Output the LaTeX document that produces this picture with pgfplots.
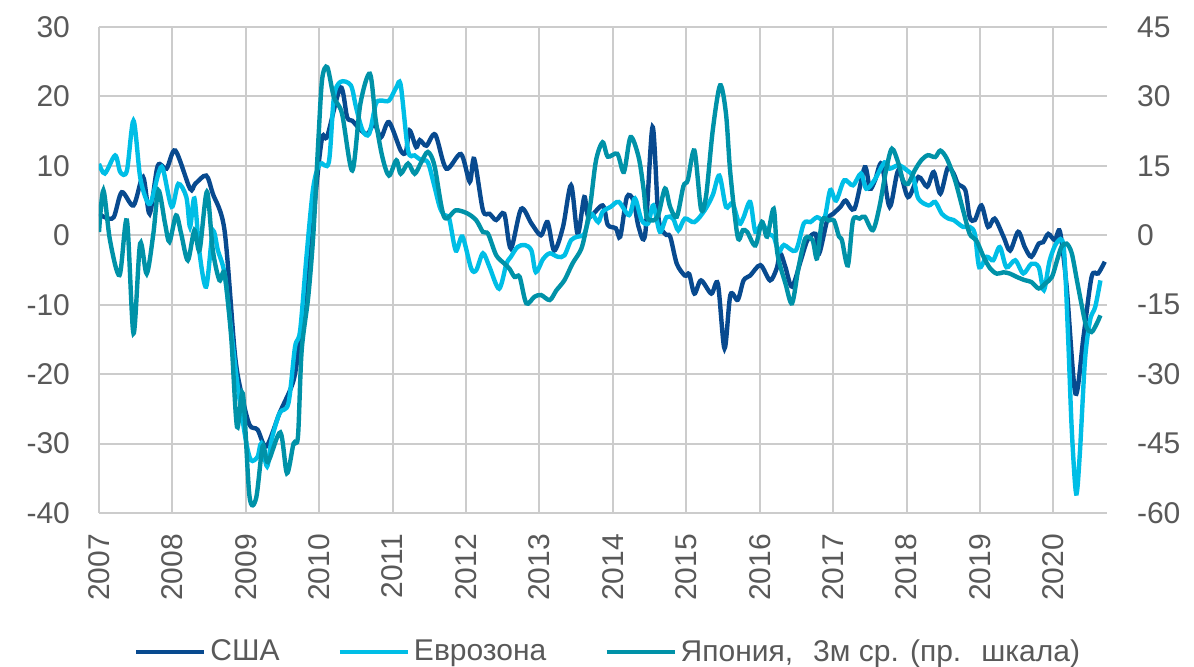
\documentclass[border=0pt]{standalone}
\usepackage{fontspec}
\setmainfont{Liberation Sans}
\usepackage{pgfplots}
\pgfplotsset{compat=1.18}
\definecolor{usa}{RGB}{8,74,143}
\definecolor{ez}{RGB}{0,190,230}
\definecolor{jp}{RGB}{0,146,168}
\definecolor{gridgray}{RGB}{204,204,204}
\definecolor{textgray}{RGB}{89,89,89}
\begin{document}
\begin{tikzpicture}
\pgfplotsset{
  common/.style={
    scale only axis, width=504pt, height=243pt,
    xmin=2007, xmax=2020.73,
    axis line style={draw=none},
    major tick length=0pt,
    tick label style={font=\fontsize{15}{17}\selectfont, text=textgray},
    /pgf/number format/assume math mode=true,
    /pgf/number format/1000 sep={},
  }
}
\begin{axis}[common,
  ymin=-40, ymax=30, ytick={-40,-30,...,30},
  xtick={2007,2008,2009,2010,2011,2012,2013,2014,2015,2016,2017,2018,2019,2020},
  xticklabels={2007,2008,2009,2010,2011,2012,2013,2014,2015,2016,2017,2018,2019,2020},
  xticklabel style={rotate=90, anchor=east},
  xticklabel shift=7pt,
  yticklabel shift=11pt,
  grid=major, major grid style={color=gridgray, line width=1pt},
]
\coordinate (bl) at (rel axis cs:0,0);
% USA
\addplot[usa, line width=2.2pt, smooth] coordinates {
(2007.00,3.1)(2007.08,2.6)(2007.20,2.6)(2007.31,6.2)(2007.47,4.3)(2007.60,8.4)(2007.69,3.1)(2007.80,10.0)(2007.92,9.6)
(2008.04,12.2)(2008.24,6.7)(2008.31,7.4)(2008.46,8.6)(2008.55,6.0)(2008.71,0.7)(2008.85,-17.0)(2008.94,-22.8)
(2009.05,-27.3)(2009.16,-28.0)(2009.28,-30.4)(2009.46,-25.6)(2009.65,-20.9)(2009.74,-14.6)(2009.88,-2.6)(2009.96,7.0)
(2010.04,14.1)(2010.11,14.3)(2010.29,21.3)(2010.38,17.0)(2010.45,16.5)(2010.57,15.1)(2010.66,14.6)(2010.75,16.1)(2010.84,14.1)(2010.95,16.3)
(2011.11,12.2)(2011.18,12.0)(2011.23,15.1)(2011.32,12.7)(2011.37,13.7)(2011.46,12.9)(2011.58,14.5)(2011.73,9.6)(2011.93,11.7)
(2012.05,7.7)(2012.11,11.0)(2012.23,3.6)(2012.32,3.1)(2012.41,2.2)(2012.52,3.1)(2012.61,-1.9)(2012.75,3.8)(2012.89,1.7)
(2013.02,0.0)(2013.11,1.9)(2013.20,-2.2)(2013.32,1.2)(2013.43,7.2)(2013.52,0.2)(2013.61,5.5)(2013.67,2.6)(2013.86,4.3)(2013.93,1.5)
(2014.04,1.0)(2014.10,-0.2)(2014.19,5.5)(2014.28,5.0)(2014.35,1.2)(2014.44,0.2)(2014.54,15.6)(2014.62,2.6)(2014.71,0.2)(2014.78,-0.2)(2014.87,-4.1)(2014.98,-5.8)
(2015.04,-5.6)(2015.11,-8.4)(2015.20,-6.5)(2015.34,-8.4)(2015.43,-7.0)(2015.52,-16.3)(2015.60,-8.6)(2015.70,-9.3)(2015.78,-6.5)(2015.87,-5.8)
(2016.01,-4.3)(2016.14,-6.5)(2016.23,-4.8)(2016.28,-2.6)(2016.35,-4.6)(2016.44,-7.4)(2016.56,-3.6)(2016.65,-0.7)(2016.76,0.2)(2016.81,-2.6)(2016.92,2.2)
(2017.00,3.1)(2017.10,4.1)(2017.17,5.0)(2017.29,3.8)(2017.43,9.8)(2017.50,6.7)(2017.57,7.9)(2017.66,10.3)(2017.77,4.1)(2017.89,9.4)
(2018.02,5.5)(2018.16,8.4)(2018.28,7.0)(2018.37,9.1)(2018.46,6.0)(2018.56,9.7)(2018.64,8.9)(2018.70,7.4)(2018.80,6.5)(2018.86,2.6)(2018.93,2.2)
(2019.02,4.3)(2019.11,1.2)(2019.20,2.4)(2019.32,-0.2)(2019.41,-2.2)(2019.52,0.5)(2019.61,-1.7)(2019.70,-3.1)(2019.80,-1.2)(2019.86,-1.0)(2019.93,0.2)
(2020.02,-0.7)(2020.09,0.5)(2020.18,-7.4)(2020.30,-22.8)(2020.41,-14.6)(2020.52,-6.0)(2020.61,-5.5)(2020.70,-3.8)
};
% Eurozone
\addplot[ez, line width=2.2pt, smooth] coordinates {
(2007.00,10.3)(2007.08,8.9)(2007.22,11.5)(2007.29,9.1)(2007.38,9.3)(2007.47,16.5)(2007.56,8.4)(2007.65,5.0)(2007.71,4.8)(2007.81,8.9)(2007.87,9.6)(2007.99,4.1)
(2008.08,7.4)(2008.19,5.5)(2008.24,1.2)(2008.30,5.3)(2008.37,-2.6)(2008.46,-7.4)(2008.55,0.5)(2008.62,-2.2)(2008.71,-5.5)(2008.80,-13.7)(2008.89,-21.8)
(2009.00,-29.5)(2009.07,-32.4)(2009.16,-31.9)(2009.21,-30.0)(2009.29,-33.3)(2009.35,-29.5)(2009.46,-25.6)(2009.58,-24.2)(2009.67,-16.1)(2009.74,-13.7)(2009.83,-2.6)(2009.92,7.0)
(2010.01,10.3)(2010.13,10.5)(2010.20,19.9)(2010.29,22.1)(2010.43,21.6)(2010.50,18.5)(2010.59,15.1)(2010.68,14.6)(2010.77,18.9)(2010.84,19.4)(2010.95,19.4)
(2011.05,21.3)(2011.11,21.6)(2011.21,12.2)(2011.30,11.5)(2011.39,10.8)(2011.48,10.5)(2011.57,7.0)(2011.64,4.1)(2011.70,2.9)(2011.77,2.4)(2011.86,-2.2)(2011.95,-0.2)
(2012.07,-4.8)(2012.14,-5.0)(2012.23,-2.6)(2012.32,-4.6)(2012.45,-7.7)(2012.55,-4.1)(2012.61,-3.1)(2012.70,-1.7)(2012.80,-1.4)(2012.89,-2.2)(2012.95,-5.3)
(2013.05,-3.4)(2013.14,-2.6)(2013.25,-3.1)(2013.34,-2.9)(2013.43,-0.7)(2013.52,-0.2)(2013.61,0.2)(2013.70,3.1)(2013.80,1.9)(2013.86,3.4)(2013.97,4.1)
(2014.08,4.8)(2014.22,2.9)(2014.30,5.3)(2014.39,2.2)(2014.48,1.7)(2014.55,4.3)(2014.64,0.5)(2014.73,2.6)(2014.82,2.4)(2014.89,0.7)(2014.98,2.4)
(2015.11,1.9)(2015.25,3.6)(2015.36,5.8)(2015.45,8.6)(2015.54,4.1)(2015.63,4.6)(2015.72,1.7)(2015.78,2.6)(2015.87,4.8)(2015.94,0.5)
(2016.03,1.7)(2016.12,0.2)(2016.19,-0.2)(2016.26,-2.4)(2016.33,-1.4)(2016.49,-2.2)(2016.60,1.7)(2016.69,1.9)(2016.78,2.6)(2016.88,2.4)(2016.96,6.5)
(2017.04,5.0)(2017.15,7.9)(2017.27,7.2)(2017.38,8.9)(2017.45,6.7)(2017.56,7.9)(2017.70,10.5)(2017.77,9.6)(2017.89,10.1)
(2018.00,9.4)(2018.09,8.4)(2018.16,5.3)(2018.30,4.3)(2018.39,4.8)(2018.48,3.1)(2018.57,2.4)(2018.64,2.2)(2018.77,1.2)(2018.86,1.2)(2018.93,0.2)(2018.99,-4.6)
(2019.09,-3.1)(2019.18,-3.6)(2019.27,-1.7)(2019.36,-4.6)(2019.48,-3.6)(2019.59,-5.5)(2019.70,-4.1)(2019.80,-4.6)(2019.87,-7.9)(2019.95,-3.6)
(2020.05,-1.0)(2020.14,-1.7)(2020.20,-14.6)(2020.25,-28.0)(2020.31,-37.2)(2020.36,-31.4)(2020.43,-18.0)(2020.50,-12.2)(2020.57,-10.3)(2020.64,-6.5)
};
\end{axis}
\begin{axis}[common,
  ymin=-60, ymax=45, ytick={-60,-45,...,45},
  axis y line*=right, axis x line=none,
  yticklabel shift=11.5pt,
  legend style={at={(0.5,0)}, anchor=center, yshift=-69.5pt, xshift=3pt,
    draw=none, fill=none, legend columns=3,
    font=\fontsize{15}{17}\selectfont, text=textgray,
    /tikz/every even column/.append style={column sep=27pt}},
  legend image code/.code={\draw[#1, line width=2.2pt] (0pt,0pt) -- (34pt,0pt);},
]
\addlegendimage{usa}
\addlegendentry{США}
\addlegendimage{ez}
\addlegendentry{Еврозона}
% Japan (right axis)
\addplot[jp, line width=2.2pt, smooth] coordinates {
(2007.00,0.7)(2007.06,9.7)(2007.15,-1.1)(2007.28,-8.6)(2007.38,3.2)(2007.47,-21.2)(2007.56,-1.8)(2007.65,-8.3)(2007.74,0.3)(2007.81,9.7)(2007.90,2.5)(2007.96,-1.4)
(2008.05,4.3)(2008.12,0.3)(2008.21,-5.4)(2008.30,1.1)(2008.37,-3.2)(2008.47,9.4)(2008.55,-3.2)(2008.64,-9.7)(2008.71,-8.3)(2008.80,-21.9)(2008.88,-41.4)(2008.96,-34.2)
(2009.05,-56.4)(2009.14,-56.8)(2009.23,-45.5)(2009.30,-49.0)(2009.47,-42.6)(2009.56,-51.4)(2009.65,-45.0)(2009.71,-43.5)(2009.76,-25.0)(2009.85,-13.3)(2009.92,0.3)(2009.99,21.2)
(2010.04,33.8)(2010.11,36.3)(2010.20,29.8)(2010.31,26.3)(2010.45,14.0)(2010.56,28.4)(2010.69,34.9)(2010.77,24.8)(2010.86,16.9)(2010.95,12.9)
(2011.05,16.2)(2011.11,13.3)(2011.21,15.5)(2011.30,13.3)(2011.39,15.8)(2011.48,18.0)(2011.57,15.0)(2011.70,4.0)(2011.86,5.4)
(2012.02,4.7)(2012.14,3.2)(2012.23,0.7)(2012.30,0.3)(2012.41,-4.3)(2012.52,-6.1)(2012.59,-7.2)(2012.66,-9.0)(2012.73,-9.0)(2012.82,-14.7)(2012.93,-13.3)
(2013.02,-12.9)(2013.14,-14.0)(2013.23,-11.9)(2013.34,-9.7)(2013.45,-6.1)(2013.57,-2.9)(2013.64,1.8)(2013.70,7.5)(2013.77,16.2)(2013.86,20.1)(2013.93,17.0)
(2014.06,17.6)(2014.15,13.7)(2014.24,21.2)(2014.35,16.9)(2014.42,9.7)(2014.46,4.0)(2014.55,3.2)(2014.62,4.5)(2014.71,10.1)(2014.78,6.1)(2014.87,4.0)(2014.96,10.6)
(2015.02,11.9)(2015.11,18.3)(2015.20,5.7)(2015.27,8.6)(2015.36,22.7)(2015.46,32.4)(2015.54,26.3)(2015.60,13.3)(2015.70,-0.4)(2015.77,1.1)(2015.83,0.7)(2015.94,-2.2)
(2016.03,2.9)(2016.10,-0.3)(2016.19,5.7)(2016.24,-3.9)(2016.35,-10.4)(2016.44,-14.7)(2016.53,-6.8)(2016.62,-0.7)(2016.72,-1.1)(2016.78,-5.0)(2016.85,3.2)(2016.94,3.2)
(2017.01,3.2)(2017.08,-0.3)(2017.12,-1.1)(2017.20,-6.5)(2017.27,3.2)(2017.36,3.6)(2017.43,4.0)(2017.54,1.1)(2017.63,6.1)(2017.72,14.0)(2017.80,18.7)(2017.89,15.5)(2017.95,11.9)
(2018.02,11.1)(2018.11,14.0)(2018.20,16.2)(2018.29,17.3)(2018.39,16.9)(2018.46,18.3)(2018.55,16.5)(2018.66,11.9)(2018.77,5.4)(2018.86,0.3)(2018.95,-1.1)
(2019.05,-4.7)(2019.14,-7.2)(2019.23,-8.3)(2019.32,-8.0)(2019.41,-8.3)(2019.50,-9.0)(2019.61,-9.7)(2019.70,-10.1)(2019.80,-11.5)(2019.89,-10.4)(2019.98,-9.0)
(2020.05,-5.4)(2020.11,-2.5)(2020.18,-1.8)(2020.25,-3.9)(2020.32,-9.7)(2020.39,-15.5)(2020.45,-19.8)(2020.52,-20.9)(2020.59,-19.1)(2020.64,-17.3)
};
\addlegendentry{Япония,\hspace{10pt}3м ср. (пр.\hspace{10pt}шкала)}
\end{axis}
\pgfresetboundingbox
\useasboundingbox ([shift={(-49.5pt,-77pt)}]bl) rectangle ([shift={(547.5pt,256.5pt)}]bl);
\end{tikzpicture}
\end{document}
